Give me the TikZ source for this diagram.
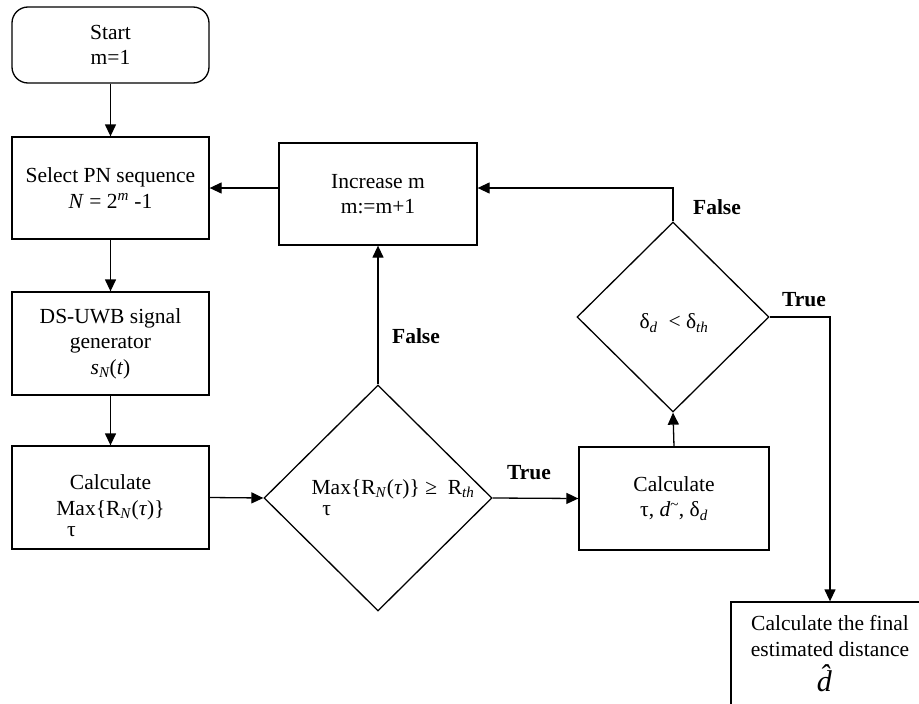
\documentclass[tikz,border=0pt]{standalone}
\usepackage{fontspec}
\setmainfont{Liberation Serif}
\usetikzlibrary{shapes.geometric,arrows.meta}
\newcommand{\maxtau}{\rlap{\hspace{0.5em}\smash{\raisebox{-0.98em}{τ}}}Max}
\begin{document}
\begin{tikzpicture}[x=1pt,y=-1pt,
  every node/.style={font=\fontsize{21.5}{25.5}\selectfont},
  box/.style={draw,line width=1.3pt,rectangle,minimum width=197pt,inner sep=0pt,align=center},
  dia/.style={draw,line width=1.3pt,diamond,inner sep=0pt},
  arr/.style={line width=1.3pt,-{Triangle[length=12pt,width=11pt]}},
  lbl/.style={font=\fontsize{21.5}{25}\selectfont\bfseries}]
\useasboundingbox (0,0) rectangle (919,704);
\clip (0,0) rectangle (919,704);
\node[box,rounded corners=16pt,minimum height=76pt] (start) at (110.5,45) {Start\\m=1};
\node[box,minimum height=102pt] (sel) at (110.5,188) {Select PN sequence\\\textit{N} = 2\textsuperscript{\textit{m}} -1};
\node[box,minimum height=103pt] (gen) at (110.5,343.5) {DS-UWB signal\\generator\\\textit{s\textsubscript{N}}(\textit{t})};
\node[box,minimum height=103pt] (calc) at (110.5,497.5) {Calculate\\\maxtau\{R\textsubscript{\textit{N}}(\textit{τ})\}};
\node[box,minimum width=198pt,minimum height=102pt] (inc) at (378,194) {Increase m\\m:=m+1};
\node[dia,minimum width=228pt,minimum height=226pt] (d1) at (378,498) {};
\node (d1t) at (393,489) {\maxtau\{R\textsubscript{\textit{N}}(\textit{τ})\} ≥ ~R\textsubscript{\textit{th}}};
\node[box,minimum width=190pt,minimum height=103pt] (c2) at (674,498.5) {Calculate\\τ, \textit{d}\textsuperscript{\~{}}, δ\textsubscript{\textit{d}}};
\node[dia,minimum width=192pt,minimum height=190pt] (d2) at (673,317) {};
\node (d2t) at (674,323) {δ\textsubscript{\textit{d}} ~< δ\textsubscript{\textit{th}}};
\node[box,minimum width=198pt,minimum height=103pt] (fin) at (830,653.5) {Calculate the final\\estimated distance\\[7pt]{\fontsize{30}{30}\selectfont\textit{\^{d}}}};
\draw[arr] (start) -- (sel);
\draw[arr] (sel) -- (gen);
\draw[arr] (gen) -- (calc);
\draw[arr] (calc.east) -- (d1.west);
\draw[arr] (d1.east) -- (c2.west);
\draw[arr] (c2.north) -- (d2.south);
\draw[arr] (d1.north) -- (inc.south);
\draw[arr] (inc.west |- sel.east) -- (sel.east);
\draw[arr] (d2.north) -- (d2.north |- sel.east) -- (inc.east |- sel.east);
\draw[arr] (d2.east) -- (fin.north |- d2.east) -- (fin.north);
\node[lbl] (lf1) at (416,336) {False};
\node[lbl] (lt1) at (529,473) {True};
\node[lbl] (lf2) at (717,207) {False};
\node[lbl] (lt2) at (804,300) {True};
\end{tikzpicture}
\end{document}
